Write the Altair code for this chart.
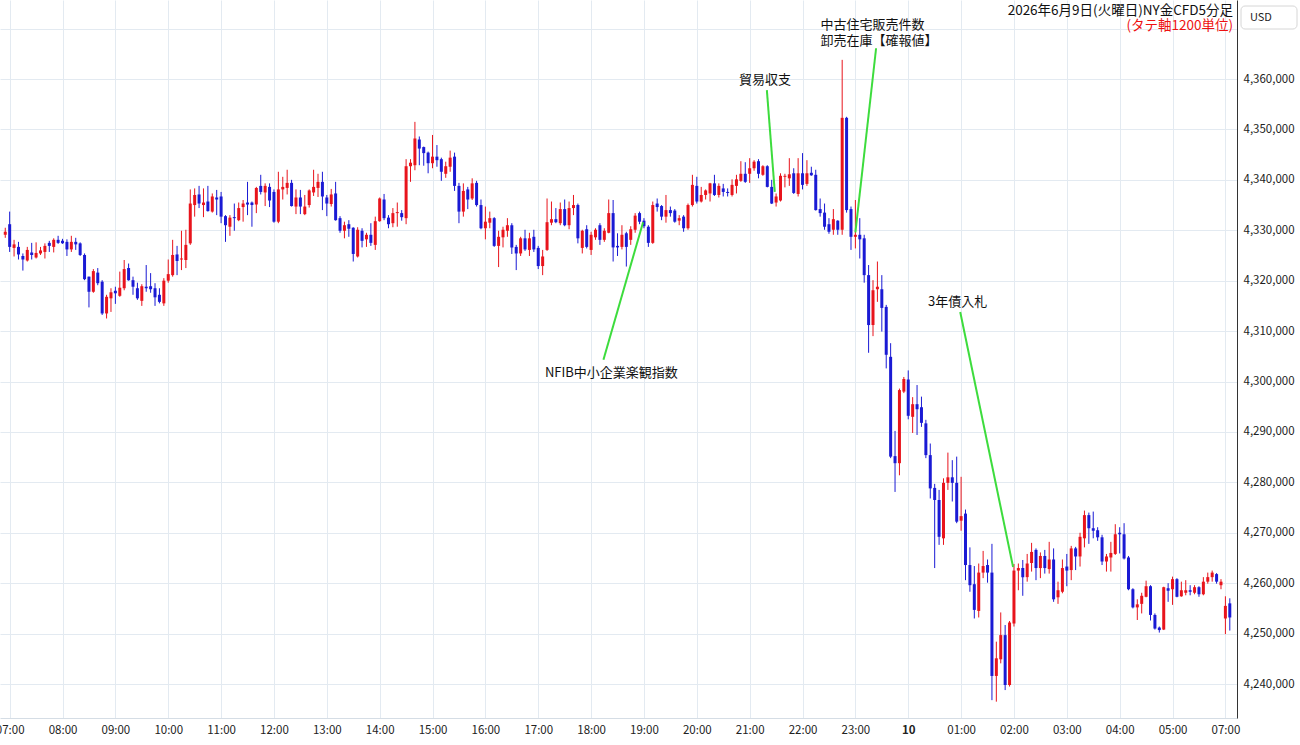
import json
import altair as alt
import pandas as pd

# 5-minute slots: -1 = 06:55, 0 = 07:00 ... 275 = 05:55, 276 = 07:00 (next day, after break), 277 = 07:05
SLOTS = list(range(-1, 278))

# prices in thousands of yen (x1000 when drawn)
OPEN = [4329.1,
    4331.2, 4326.5, 4326.7, 4324.9, 4324.0, 4325.6, 4324.6, 4325.4, 4325.7, 4327.5, 4326.7, 4328.1,
    4327.9, 4327.7, 4326.2, 4327.7, 4327.4, 4325.1, 4320.8, 4317.8, 4321.6, 4319.8, 4313.5, 4316.5,
    4318.0, 4317.0, 4318.5, 4322.5, 4320.1, 4318.5, 4316.0, 4318.8, 4318.9, 4318.5, 4317.2, 4315.5,
    4320.0, 4321.1, 4325.2, 4324.2, 4324.1, 4327.4, 4335.0, 4337.1, 4335.0, 4335.7, 4333.7, 4336.5,
    4336.7, 4332.8, 4330.7, 4332.6, 4332.0, 4334.6, 4335.5, 4335.5, 4335.1, 4338.8, 4337.5, 4338.6,
    4337.6, 4331.7, 4338.1, 4338.4, 4339.4, 4334.7, 4336.5, 4333.2, 4335.0, 4337.5, 4338.4, 4339.6,
    4336.5, 4335.2, 4337.3, 4332.4, 4329.9, 4331.2, 4330.5, 4324.8, 4329.9, 4328.2, 4329.1, 4327.1,
    4331.8, 4336.1, 4332.5, 4331.4, 4333.4, 4333.4, 4332.4, 4342.7, 4342.9, 4348.0, 4346.5, 4345.4,
    4343.3, 4344.6, 4344.1, 4341.2, 4342.6, 4344.6, 4338.8, 4333.7, 4338.1, 4336.3, 4339.4, 4335.0,
    4330.4, 4331.5, 4332.4, 4326.9, 4328.6, 4329.9, 4331.0, 4326.7, 4325.4, 4328.4, 4326.1, 4328.7,
    4326.5, 4322.9, 4326.1, 4331.5, 4332.2, 4331.4, 4334.2, 4331.0, 4334.4, 4335.0, 4326.5, 4330.2,
    4326.1, 4328.6, 4331.0, 4328.1, 4329.5, 4333.4, 4326.9, 4326.7, 4329.4, 4328.1, 4330.1, 4333.4,
    4331.9, 4330.7, 4327.5, 4335.3, 4334.8, 4332.7, 4334.0, 4333.9, 4331.9, 4332.7, 4330.4, 4335.0,
    4338.8, 4335.7, 4337.0, 4337.3, 4339.3, 4337.0, 4338.3, 4337.6, 4337.0, 4338.8, 4339.8, 4341.2,
    4341.2, 4342.3, 4343.7, 4341.0, 4342.7, 4338.6, 4335.5, 4335.9, 4340.6, 4340.3, 4341.3, 4337.2,
    4341.3, 4339.2, 4341.4, 4341.0, 4334.2, 4333.5, 4331.2, 4330.1, 4331.9, 4330.1, 4352.3, 4334.2,
    4328.7, 4329.1, 4328.4, 4321.1, 4311.2, 4318.3, 4318.3, 4314.8, 4304.9, 4285.2, 4283.8, 4298.0,
    4300.4, 4293.0, 4295.5, 4294.9, 4291.7, 4285.4, 4278.9, 4276.5, 4268.9, 4279.9, 4281.0, 4279.9,
    4272.4, 4273.8, 4263.6, 4259.8, 4254.5, 4262.1, 4263.6, 4262.1, 4241.6, 4244.9, 4249.7, 4239.8,
    4252.0, 4262.5, 4263.0, 4261.2, 4264.0, 4266.6, 4263.0, 4265.4, 4262.8, 4264.7, 4257.2, 4258.3,
    4263.3, 4262.6, 4266.9, 4265.3, 4268.9, 4273.5, 4270.9, 4270.5, 4269.1, 4264.3, 4265.1, 4265.8,
    4270.0, 4269.7, 4265.1, 4258.8, 4255.2, 4255.9, 4257.3, 4259.4, 4253.7, 4251.2, 4250.8, 4259.0,
    4258.8, 4260.8, 4257.4, 4258.1, 4258.6, 4258.1, 4259.2, 4257.8, 4260.3, 4261.2, 4261.8, 4259.6,
    4253.0, 4256.0]

HIGH = [4330.5,
    4333.7, 4328.1, 4327.7, 4325.4, 4326.7, 4327.5, 4327.6, 4326.7, 4327.4, 4327.9, 4328.4, 4328.9,
    4328.3, 4328.2, 4328.9, 4328.5, 4327.6, 4325.4, 4320.8, 4322.3, 4322.5, 4320.1, 4317.2, 4318.5,
    4318.8, 4321.8, 4324.1, 4323.4, 4320.8, 4319.6, 4319.3, 4323.1, 4321.5, 4319.5, 4318.5, 4320.5,
    4324.2, 4328.1, 4326.9, 4329.9, 4330.1, 4338.1, 4338.3, 4338.8, 4338.3, 4338.8, 4337.3, 4338.0,
    4337.6, 4333.0, 4333.0, 4335.3, 4335.5, 4336.0, 4339.6, 4335.7, 4338.6, 4341.0, 4339.3, 4339.3,
    4338.1, 4341.6, 4340.6, 4342.0, 4340.0, 4338.1, 4338.0, 4337.0, 4338.1, 4342.0, 4341.2, 4341.6,
    4337.0, 4338.2, 4339.6, 4332.8, 4331.7, 4332.0, 4330.6, 4330.6, 4330.4, 4329.5, 4331.4, 4332.7,
    4336.5, 4337.2, 4333.0, 4334.4, 4335.5, 4334.0, 4344.1, 4344.1, 4351.5, 4348.6, 4346.6, 4345.6,
    4348.9, 4346.9, 4344.4, 4343.6, 4345.8, 4345.4, 4339.4, 4339.3, 4338.6, 4340.3, 4339.8, 4336.1,
    4334.7, 4333.7, 4332.6, 4329.9, 4330.7, 4332.4, 4331.4, 4327.1, 4328.7, 4330.1, 4329.5, 4330.1,
    4326.9, 4326.1, 4336.3, 4335.7, 4334.4, 4335.5, 4336.1, 4335.7, 4337.0, 4335.3, 4330.1, 4331.0,
    4329.7, 4330.4, 4331.4, 4330.4, 4336.1, 4336.0, 4329.4, 4331.0, 4329.7, 4330.8, 4333.4, 4333.7,
    4332.4, 4331.0, 4335.7, 4336.3, 4335.0, 4337.0, 4334.7, 4334.2, 4333.0, 4333.0, 4335.3, 4341.0,
    4340.6, 4338.6, 4338.1, 4339.4, 4341.0, 4339.3, 4339.2, 4338.3, 4340.1, 4341.0, 4343.7, 4343.5,
    4344.3, 4343.9, 4344.1, 4342.9, 4342.9, 4340.0, 4337.3, 4341.3, 4341.2, 4344.3, 4342.3, 4344.3,
    4345.3, 4343.9, 4342.6, 4342.0, 4336.3, 4335.3, 4332.4, 4334.2, 4332.0, 4363.8, 4352.5, 4334.7,
    4336.0, 4332.4, 4329.1, 4323.1, 4320.1, 4323.8, 4321.1, 4315.2, 4307.6, 4290.2, 4298.6, 4300.9,
    4302.2, 4296.9, 4299.3, 4297.0, 4292.4, 4287.7, 4279.7, 4278.5, 4280.8, 4285.9, 4284.4, 4285.1,
    4281.1, 4274.6, 4267.1, 4263.4, 4263.9, 4266.4, 4264.7, 4267.8, 4248.4, 4254.2, 4251.7, 4252.5,
    4263.8, 4263.9, 4264.6, 4265.8, 4268.0, 4266.9, 4266.1, 4266.6, 4268.2, 4266.9, 4260.3, 4264.7,
    4265.8, 4267.4, 4267.2, 4270.0, 4274.4, 4274.0, 4274.2, 4271.1, 4269.6, 4265.8, 4268.2, 4271.7,
    4271.1, 4271.9, 4265.4, 4259.0, 4256.8, 4258.1, 4260.5, 4259.6, 4254.0, 4251.4, 4259.3, 4260.0,
    4261.3, 4261.0, 4260.3, 4260.6, 4259.6, 4259.6, 4259.4, 4261.2, 4262.1, 4262.5, 4262.0, 4260.8,
    4257.4, 4257.0]

LOW = [4328.5,
    4325.7, 4324.8, 4324.2, 4322.0, 4323.8, 4324.2, 4324.4, 4325.1, 4324.4, 4325.7, 4325.6, 4327.3,
    4327.3, 4324.9, 4325.7, 4326.1, 4324.9, 4320.1, 4314.7, 4317.6, 4319.1, 4313.2, 4312.5, 4313.8,
    4315.4, 4316.8, 4318.1, 4320.0, 4317.2, 4316.2, 4315.0, 4317.8, 4317.6, 4315.0, 4315.5, 4315.0,
    4319.6, 4320.8, 4321.1, 4322.1, 4322.5, 4327.1, 4332.7, 4334.4, 4332.6, 4333.7, 4333.5, 4333.0,
    4331.4, 4327.7, 4328.9, 4329.9, 4331.8, 4331.7, 4333.0, 4330.7, 4333.4, 4337.1, 4334.8, 4334.6,
    4331.5, 4331.4, 4336.1, 4337.1, 4334.7, 4333.2, 4333.2, 4333.0, 4334.5, 4336.8, 4336.6, 4334.0,
    4332.8, 4334.7, 4331.9, 4329.5, 4328.4, 4328.7, 4323.8, 4324.6, 4326.6, 4326.7, 4326.9, 4326.1,
    4331.7, 4332.0, 4330.4, 4330.6, 4330.7, 4331.9, 4331.2, 4339.6, 4341.9, 4342.9, 4342.8, 4341.3,
    4342.3, 4342.6, 4339.8, 4340.4, 4341.6, 4337.8, 4331.4, 4332.7, 4334.2, 4336.0, 4334.7, 4330.2,
    4328.2, 4330.4, 4326.7, 4322.7, 4326.6, 4328.7, 4325.3, 4322.1, 4324.9, 4325.9, 4324.9, 4325.7,
    4322.3, 4321.1, 4325.9, 4331.0, 4331.4, 4331.0, 4330.8, 4330.2, 4333.0, 4327.4, 4325.4, 4326.4,
    4325.1, 4328.1, 4327.1, 4327.7, 4329.4, 4323.8, 4324.9, 4326.2, 4322.8, 4327.1, 4329.5, 4331.2,
    4330.4, 4326.7, 4327.3, 4333.7, 4332.0, 4331.5, 4332.7, 4331.5, 4331.0, 4329.7, 4330.1, 4334.7,
    4335.3, 4335.5, 4336.1, 4335.7, 4336.8, 4336.5, 4336.7, 4336.7, 4336.7, 4337.3, 4339.6, 4339.4,
    4339.4, 4341.8, 4340.3, 4340.8, 4338.5, 4335.2, 4334.7, 4335.7, 4338.5, 4338.8, 4337.2, 4336.7,
    4338.1, 4338.8, 4340.8, 4333.9, 4332.7, 4330.1, 4329.3, 4329.1, 4329.1, 4329.1, 4333.5, 4326.1,
    4326.4, 4324.4, 4319.6, 4305.7, 4309.0, 4315.8, 4309.9, 4302.6, 4284.8, 4278.1, 4281.4, 4297.7,
    4292.5, 4289.8, 4289.4, 4291.0, 4284.8, 4276.8, 4263.0, 4267.6, 4267.6, 4278.5, 4276.2, 4271.9,
    4270.4, 4260.6, 4258.3, 4253.0, 4253.2, 4261.0, 4260.1, 4236.8, 4236.5, 4244.1, 4238.8, 4239.5,
    4251.4, 4258.6, 4257.5, 4260.3, 4262.3, 4260.6, 4261.0, 4261.9, 4261.9, 4256.3, 4255.9, 4258.0,
    4259.4, 4260.6, 4262.6, 4263.3, 4267.1, 4267.8, 4268.9, 4268.4, 4263.6, 4262.3, 4262.3, 4265.6,
    4265.9, 4264.7, 4258.6, 4255.0, 4252.7, 4254.0, 4257.2, 4252.6, 4250.8, 4250.2, 4250.7, 4256.3,
    4255.7, 4257.2, 4257.3, 4257.6, 4257.6, 4257.8, 4257.3, 4257.6, 4259.9, 4260.3, 4259.9, 4258.8,
    4249.9, 4250.6]

CLOSE = [4329.7,
    4326.7, 4327.2, 4325.2, 4324.2, 4326.1, 4325.1, 4325.5, 4326.0, 4326.9, 4326.9, 4328.1, 4327.5,
    4327.4, 4326.2, 4327.7, 4327.2, 4325.1, 4320.3, 4317.8, 4321.9, 4319.5, 4313.5, 4316.8, 4317.7,
    4317.5, 4318.6, 4322.3, 4320.1, 4318.8, 4316.5, 4318.9, 4318.5, 4318.3, 4316.7, 4315.8, 4320.0,
    4321.3, 4325.1, 4323.9, 4324.4, 4327.1, 4335.3, 4337.0, 4335.3, 4335.5, 4333.8, 4336.7, 4336.1,
    4332.7, 4331.0, 4332.5, 4332.4, 4334.4, 4335.3, 4335.1, 4335.0, 4338.4, 4337.6, 4338.8, 4335.9,
    4331.7, 4338.1, 4338.6, 4339.4, 4334.8, 4336.5, 4334.7, 4334.7, 4337.9, 4338.6, 4339.6, 4336.7,
    4335.3, 4337.1, 4332.0, 4329.9, 4331.0, 4330.3, 4325.3, 4330.1, 4327.9, 4329.1, 4327.5, 4331.8,
    4336.3, 4332.4, 4331.2, 4333.4, 4333.6, 4332.6, 4342.7, 4343.4, 4348.2, 4346.2, 4345.3, 4343.3,
    4344.6, 4343.9, 4341.6, 4342.7, 4344.4, 4338.8, 4333.7, 4337.8, 4336.1, 4339.3, 4335.0, 4330.4,
    4331.7, 4332.4, 4326.9, 4328.7, 4330.1, 4331.0, 4326.6, 4325.4, 4328.4, 4326.2, 4328.4, 4326.2,
    4322.9, 4324.8, 4331.6, 4332.2, 4331.6, 4334.2, 4331.0, 4334.4, 4335.0, 4328.4, 4329.9, 4326.7,
    4329.1, 4330.1, 4328.1, 4329.9, 4333.4, 4326.6, 4326.6, 4329.1, 4326.7, 4330.2, 4332.9, 4331.7,
    4330.8, 4327.5, 4335.0, 4334.6, 4332.7, 4334.0, 4333.4, 4331.7, 4332.4, 4330.4, 4335.0, 4339.0,
    4335.7, 4337.0, 4337.9, 4339.3, 4337.0, 4338.8, 4337.6, 4337.4, 4339.0, 4340.1, 4341.2, 4339.6,
    4342.3, 4343.6, 4341.2, 4342.7, 4338.6, 4335.3, 4336.7, 4340.8, 4340.8, 4341.1, 4337.4, 4341.3,
    4339.0, 4341.3, 4340.9, 4334.0, 4333.4, 4330.7, 4329.7, 4332.2, 4330.1, 4352.3, 4334.0, 4328.7,
    4329.1, 4328.2, 4321.1, 4311.2, 4318.1, 4318.8, 4314.6, 4305.3, 4285.1, 4283.8, 4298.3, 4300.5,
    4293.2, 4295.5, 4294.5, 4291.8, 4285.4, 4278.8, 4276.5, 4269.2, 4279.9, 4281.0, 4279.9, 4272.2,
    4273.3, 4263.6, 4259.6, 4254.7, 4262.1, 4263.4, 4262.1, 4241.6, 4245.1, 4249.7, 4239.8, 4252.2,
    4262.5, 4263.0, 4261.2, 4263.9, 4266.2, 4263.0, 4265.4, 4263.0, 4264.7, 4256.8, 4258.6, 4263.0,
    4262.5, 4266.9, 4265.3, 4269.2, 4273.5, 4270.9, 4270.4, 4269.1, 4264.3, 4265.3, 4266.0, 4269.7,
    4269.7, 4264.9, 4258.8, 4255.2, 4255.8, 4257.5, 4259.4, 4253.7, 4251.0, 4250.7, 4259.2, 4258.5,
    4260.8, 4257.3, 4258.6, 4258.6, 4258.3, 4259.2, 4257.8, 4260.3, 4261.2, 4262.1, 4260.3, 4260.3,
    4255.5, 4253.2]

assert len(SLOTS) == len(OPEN) == len(HIGH) == len(LOW) == len(CLOSE)

TICK_POS = [0, 12, 24, 36, 48, 60, 72, 84, 96, 108, 120, 132, 144, 156, 168, 180, 192, 204,
            216, 228, 240, 252, 264, 276]
TICK_LABELS = ["07:00", "08:00", "09:00", "10:00", "11:00", "12:00", "13:00", "14:00", "15:00",
               "16:00", "17:00", "18:00", "19:00", "20:00", "21:00", "22:00", "23:00", "10",
               "01:00", "02:00", "03:00", "04:00", "05:00", "07:00"]
Y_TICKS = [4240000, 4250000, 4260000, 4270000, 4280000, 4290000, 4300000, 4310000,
           4320000, 4330000, 4340000, 4350000, 4360000, 4370000]

# event annotations (slot, price in thousands)
ANN_LABELS = ["NFIB中小企業楽観指数", "貿易収支", "3年債入札"]
ANN_LABEL_X = [136.6, 171.5, 215.2]
ANN_LABEL_Y = [4301.7, 4359.8, 4315.8]
ANN_LEFT_LABELS = ["中古住宅販売件数", "卸売在庫【確報値】"]
ANN_LEFT_X = [184.1, 184.1]
ANN_LEFT_Y = [4370.8, 4367.6]
LINE_X1 = [134.8, 171.9, 196.7, 215.8]
LINE_Y1 = [4304.3, 4357.8, 4366.1, 4313.8]
LINE_X2 = [143.8, 173.7, 192.0, 227.8]
LINE_Y2 = [4331.6, 4337.6, 4329.6, 4263.2]

TITLE = "2026年6月9日(火曜日)NY金CFD5分足"
SUBTITLE = "(タテ軸1200単位)"
CURRENCY = "USD"

FONT = "Noto Sans CJK JP"
RED = "#e8141c"
BLUE = "#1a1ad4"
GRID = "#e3eaf1"

df = pd.DataFrame({
    "slot": SLOTS,
    "open": [v * 1000 for v in OPEN],
    "high": [v * 1000 for v in HIGH],
    "low": [v * 1000 for v in LOW],
    "close": [v * 1000 for v in CLOSE],
})
df["dir"] = ["up" if c >= o else "down" for o, c in zip(OPEN, CLOSE)]

ann = pd.DataFrame({"label": ANN_LABELS, "x": ANN_LABEL_X, "y": [v * 1000 for v in ANN_LABEL_Y]})
ann_left = pd.DataFrame({"label": ANN_LEFT_LABELS, "x": ANN_LEFT_X, "y": [v * 1000 for v in ANN_LEFT_Y]})
lines = pd.DataFrame({"x1": LINE_X1, "y1": [v * 1000 for v in LINE_Y1],
                      "x2": LINE_X2, "y2": [v * 1000 for v in LINE_Y2]})

xscale = alt.Scale(domain=[-1.06, 277.5], nice=False, zero=False)
yscale = alt.Scale(domain=[4233260, 4375670], nice=False, zero=False)

label_expr = "%s[indexof(%s, datum.value)]" % (json.dumps(TICK_LABELS, ensure_ascii=False), json.dumps(TICK_POS))

xaxis = alt.Axis(values=TICK_POS, labelExpr=label_expr, grid=True, gridColor=GRID, ticks=False,
                 domain=True, domainColor="#d5dde5", labelFont=FONT, labelFontSize=11.5,
                 labelColor="#222222", labelPadding=6, labelOverlap=False, labelFlush=False,
                 labelFontWeight=alt.condition("datum.value == 204", alt.value("bold"), alt.value("normal")),
                 title=None)
yaxis = alt.Axis(orient="right", values=Y_TICKS, grid=True, gridColor=GRID, ticks=False,
                 domain=True, domainColor="#333333", labelFont=FONT, labelFontSize=11.5,
                 labelColor="#222222", labelPadding=6, labelAlign="left",
                 labelExpr="datum.value > 4365000 ? '' : format(datum.value, ',')", title=None)

color = alt.Color("dir:N", scale=alt.Scale(domain=["up", "down"], range=[RED, BLUE]), legend=None)

base = alt.Chart(df)
wicks = base.mark_rule(strokeWidth=1).encode(
    x=alt.X("slot:Q", scale=xscale, axis=xaxis),
    y=alt.Y("low:Q", scale=yscale, axis=yaxis),
    y2="high:Q",
    color=color,
)
bodies = base.mark_bar(size=3).encode(
    x=alt.X("slot:Q", scale=xscale),
    y=alt.Y("open:Q", scale=yscale),
    y2="close:Q",
    color=color,
)

green = alt.Chart(lines).mark_rule(color="#3ddc3d", strokeWidth=2).encode(
    x=alt.X("x1:Q", scale=xscale), y=alt.Y("y1:Q", scale=yscale), x2="x2:Q", y2="y2:Q")

ann_text = alt.Chart(ann).mark_text(font=FONT, fontSize=13, color="#111111", align="center",
                                    baseline="middle").encode(
    x=alt.X("x:Q", scale=xscale), y=alt.Y("y:Q", scale=yscale), text="label:N")
ann_left_text = alt.Chart(ann_left).mark_text(font=FONT, fontSize=13, color="#111111", align="left",
                                              baseline="middle").encode(
    x=alt.X("x:Q", scale=xscale), y=alt.Y("y:Q", scale=yscale), text="label:N")

title_df = pd.DataFrame({"t": [TITLE]})
sub_df = pd.DataFrame({"t": [SUBTITLE]})
usd_df = pd.DataFrame({"t": [CURRENCY]})

title_text = alt.Chart(title_df).mark_text(font=FONT, fontSize=13.5, color="#111111", align="right",
                                           baseline="middle").encode(
    x=alt.value(1233), y=alt.value(10.5), text="t:N")
sub_text = alt.Chart(sub_df).mark_text(font=FONT, fontSize=13.5, color="#ee1111", align="right",
                                       baseline="middle").encode(
    x=alt.value(1233), y=alt.value(25.5), text="t:N")
usd_box = alt.Chart(usd_df).mark_rect(fill="white", stroke="#d6d6d6", strokeWidth=1, cornerRadius=4).encode(
    x=alt.value(1241), x2=alt.value(1297), y=alt.value(6), y2=alt.value(29))
usd_text = alt.Chart(usd_df).mark_text(font=FONT, fontSize=11, color="#222222", align="left",
                                       baseline="middle").encode(
    x=alt.value(1250), y=alt.value(17.5), text="t:N")

chart = alt.layer(
    wicks, bodies, green, ann_text, ann_left_text, title_text, sub_text, usd_box, usd_text
).properties(
    width=1237, height=718,
    autosize=alt.AutoSizeParams(type="none"),
    padding={"left": 0, "top": 0, "right": 63, "bottom": 27},
    background="white",
).configure_view(strokeWidth=0)

chart.save("out.html", embed_options={"renderer": "svg", "actions": False})
